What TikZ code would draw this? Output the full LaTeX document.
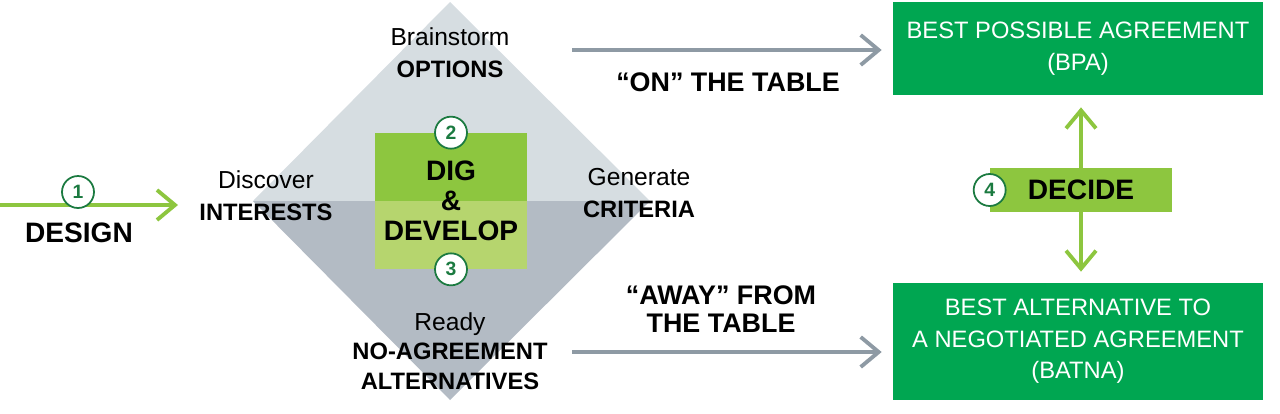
\documentclass[tikz,border=0pt]{standalone}
\usepackage{fontspec}
\setmainfont{Liberation Sans}
\usetikzlibrary{arrows.meta}

\definecolor{lightgrey}{HTML}{D6DDE1}
\definecolor{midgrey}{HTML}{B3BBC4}
\definecolor{arrowgrey}{HTML}{8E9AA4}
\definecolor{limegreen}{HTML}{8DC63F}
\definecolor{palegreen}{HTML}{B6D56E}
\definecolor{boxgreen}{HTML}{00A651}
\definecolor{darkgreen}{HTML}{1B7A40}

\newcommand\plainlbl{\fontsize{14}{18}\selectfont}
\newcommand\boldlbl{\fontsize{13.5}{18}\selectfont\bfseries}
\newcommand\biglbl{\fontsize{16}{17}\selectfont\bfseries}

\begin{document}
\begin{tikzpicture}[x=0.02cm,y=-0.02cm,
  stepnum/.style={circle,draw=darkgreen,fill=white,line width=1pt,
    minimum size=0.64cm,inner sep=0pt,text=darkgreen,
    font=\fontsize{11}{11}\selectfont\bfseries},
  greenarrow/.style={draw=limegreen,line width=2.2pt,
    -{Straight Barb[length=0.36cm,width=0.6cm]}},
  greyarrow/.style={draw=arrowgrey,line width=2.2pt,
    -{Straight Barb[length=0.36cm,width=0.6cm]}},
  phase/.style={align=center,inner sep=0pt},
  outcome/.style={fill=boxgreen,text=white,align=center,minimum width=7.4cm,
    font=\fontsize{13.5}{18}\selectfont}]
\useasboundingbox (0,0) rectangle (1280,413);

% the diamond
\fill[lightgrey] (253,201) -- (450,2) -- (650,201) -- cycle;
\fill[midgrey] (253,201) -- (450,400) -- (650,201) -- cycle;

\node[phase,font=\biglbl,minimum width=3.04cm,minimum height=2.72cm,
  fill=limegreen,
  path picture={\fill[palegreen] (path picture bounding box.west)
    rectangle (path picture bounding box.south east);}]
  (dig) at (451,201) {DIG\\\&\\DEVELOP};
\node[stepnum] (two) at (dig.north) {2};
\node[stepnum] (three) at (dig.south) {3};

\node[phase,font=\plainlbl] (options) at (450,53) {Brainstorm\\\boldlbl OPTIONS};
\node[phase,font=\plainlbl] (interests) at (266,196) {Discover\\\boldlbl INTERESTS};
\node[phase,font=\plainlbl] (criteria) at (639,193) {Generate\\\boldlbl CRITERIA};
\node[phase,font=\fontsize{14}{16.7}\selectfont] (alternatives) at (450,351)
  {Ready\\\fontsize{13.5}{16.7}\selectfont\bfseries NO-AGREEMENT\\
   \fontsize{13.5}{16.7}\selectfont\bfseries ALTERNATIVES};

% design
\coordinate (designin) at (0,205);
\coordinate (designout) at (178,205);
\draw[greenarrow] (designin) -- (designout);
\node[stepnum] (one) at (78,192) {1};
\node[phase,font=\biglbl] (design) at (79,233) {DESIGN};

% outcomes
\node[outcome,minimum height=1.86cm] (bpa) at (1078,48.5)
  {BEST POSSIBLE AGREEMENT\\(BPA)};
\node[outcome,minimum height=2.34cm] (batna) at (1078,341.5)
  {BEST ALTERNATIVE TO\\A NEGOTIATED AGREEMENT\\(BATNA)};

\coordinate (ontail) at (572,50);
\coordinate (awaytail) at (572,352);
\draw[greyarrow,shorten >=0.22cm] (ontail) -- (ontail -| bpa.west);
\draw[greyarrow,shorten >=0.22cm] (awaytail) -- (awaytail -| batna.west);
\node[phase,font=\fontsize{15.3}{16}\selectfont\bfseries] (ontable) at (728,82)
  {“ON” THE TABLE};
\node[phase,font=\fontsize{15.3}{16}\selectfont\bfseries] (awaytable) at (721,309)
  {“AWAY” FROM\\THE TABLE};

% decide
\node[fill=limegreen,minimum width=3.64cm,minimum height=0.88cm,
  font=\biglbl] (decide) at (1081,190) {DECIDE};
\node[stepnum] (four) at (decide.west) {4};
\draw[greenarrow,shorten >=0.24cm] (decide.north) -- (decide.north |- bpa.south);
\draw[greenarrow,shorten >=0.22cm] (decide.south) -- (decide.south |- batna.north);
\end{tikzpicture}
\end{document}
